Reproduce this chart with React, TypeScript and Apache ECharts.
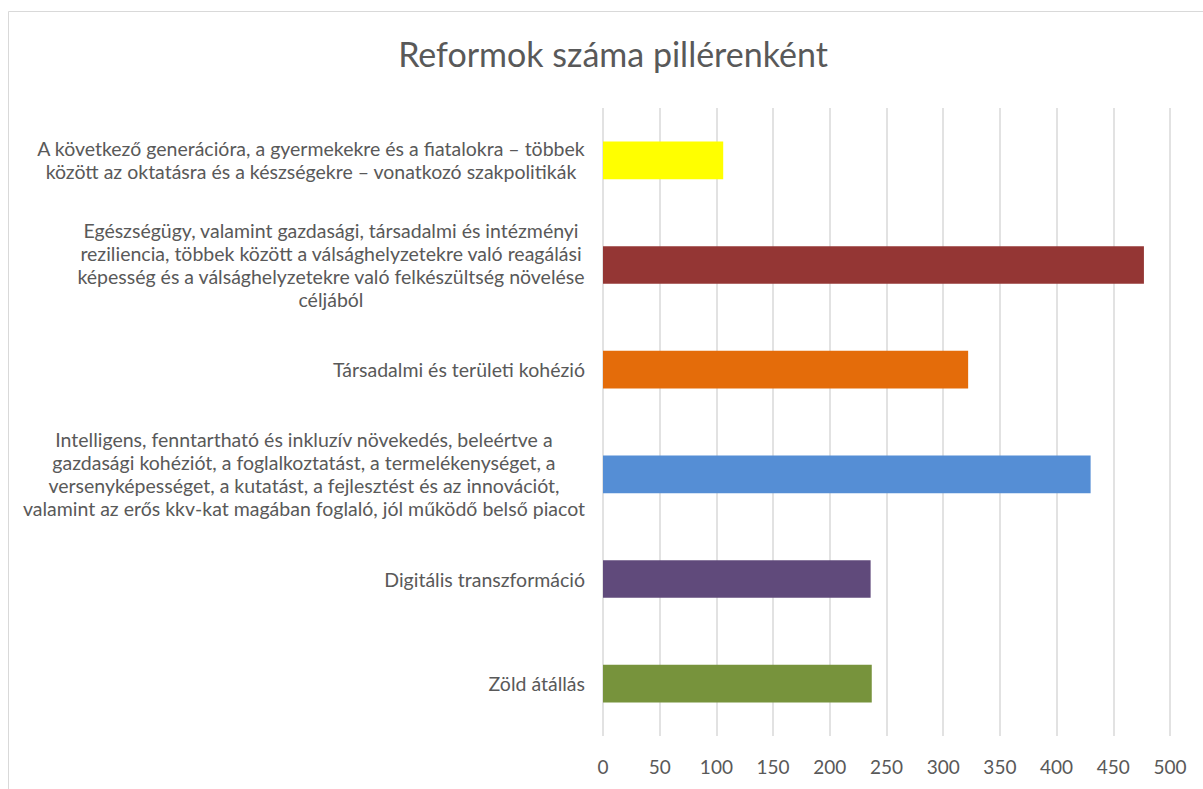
import React, { useEffect, useRef } from "react";
import * as echarts from "echarts";

const titleText = "Reformok száma pillérenként";

const categories: string[] = [
  "A következő generációra, a gyermekekre és a fiatalokra – többek\nközött az oktatásra és a készségekre – vonatkozó szakpolitikák",
  "Egészségügy, valamint gazdasági, társadalmi és intézményi\nreziliencia, többek között a válsághelyzetekre való reagálási\nképesség és a válsághelyzetekre való felkészültség növelése\ncéljából",
  "Társadalmi és területi kohézió",
  "Intelligens, fenntartható és inkluzív növekedés, beleértve a\ngazdasági kohéziót, a foglalkoztatást, a termelékenységet, a\nversenyképességet, a kutatást, a fejlesztést és az innovációt,\nvalamint az erős kkv-kat magában foglaló, jól működő belső piacot",
  "Digitális transzformáció",
  "Zöld átállás",
];

const values: number[] = [106, 477, 322, 430, 236, 237];

const barColors: string[] = ["#FFFF00", "#943634", "#E46C0A", "#558ED5", "#604A7B", "#77933C"];

const FONT = "Lato";
const TEXT_COLOR = "#595959";

export default function App() {
  const ref = useRef<HTMLDivElement>(null);

  useEffect(() => {
    if (!ref.current) return;
    const chart = echarts.init(ref.current, undefined, { renderer: "svg" });
    chart.setOption({
      animation: false,
      backgroundColor: "#ffffff",
      title: {
        text: titleText,
        left: 608,
        top: 31,
        textAlign: "center",
        textStyle: {
          fontFamily: FONT,
          fontSize: 34,
          fontWeight: "normal",
          color: TEXT_COLOR,
        },
      },
      graphic: [
        {
          type: "rect",
          shape: { x: 8.5, y: 11.5, width: 1300, height: 900 },
          style: { fill: "none", stroke: "#d9d9d9", lineWidth: 1 },
          silent: true,
        },
      ],
      grid: {
        left: 603,
        right: 33,
        top: 108,
        bottom: 53,
        containLabel: false,
      },
      xAxis: {
        type: "value",
        min: 0,
        max: 500,
        interval: 50,
        axisLine: { show: false },
        axisTick: { show: false },
        splitLine: { show: true, lineStyle: { color: "#d9d9d9", width: 1.5 } },
        axisLabel: {
          margin: 21,
          fontFamily: FONT,
          fontSize: 19,
          color: TEXT_COLOR,
        },
      },
      yAxis: {
        type: "category",
        data: categories,
        inverse: true,
        axisLine: { show: false },
        axisTick: { show: false },
        splitLine: { show: false },
        axisLabel: {
          margin: 18,
          align: "right",
          formatter: (v: string) =>
            v
              .split("\n")
              .map((l) => `{c|${l}}`)
              .join("\n"),
          rich: {
            c: {
              align: "center",
              fontFamily: FONT,
              fontSize: 19.5,
              lineHeight: 23,
              color: TEXT_COLOR,
            },
          },
        },
      },
      series: [
        {
          type: "bar",
          barCategoryGap: "64%",
          data: values.map((v, i) => ({ value: v, itemStyle: { color: barColors[i] } })),
        },
      ],
    });
    return () => chart.dispose();
  }, []);

  return (
    <div
      ref={ref}
      style={{ position: "absolute", left: 0, top: 0, width: 1203, height: 789 }}
    />
  );
}
